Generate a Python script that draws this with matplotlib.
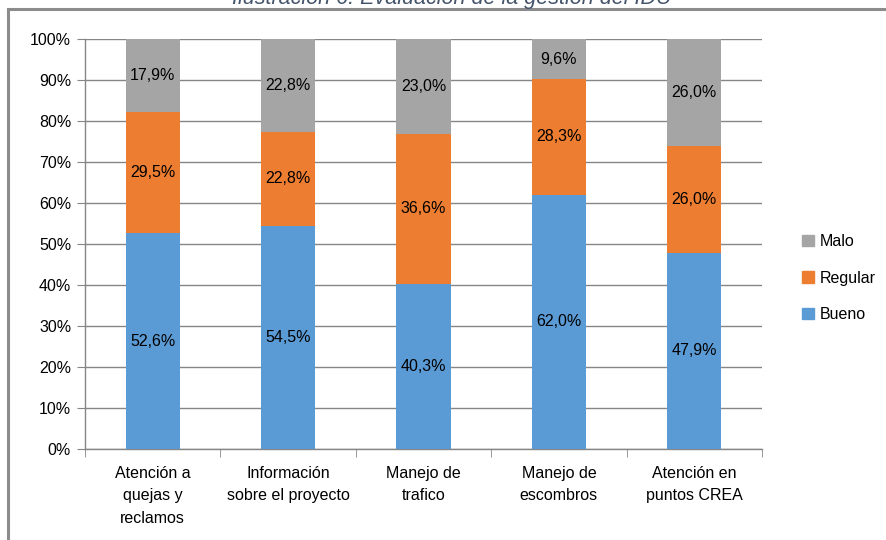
import numpy as np
import matplotlib.pyplot as plt
from matplotlib.patches import Rectangle
from matplotlib.lines import Line2D

# ============================================================
# DATA
# ============================================================
categories = ['Atención a\nquejas y\nreclamos',
              'Información\nsobre el proyecto',
              'Manejo de\ntrafico',
              'Manejo de\nescombros',
              'Atención en\npuntos CREA']
bueno = [52.6, 54.5, 40.3, 62.0, 47.9]
regular = [29.5, 22.8, 36.6, 28.3, 26.0]
malo = [17.9, 22.8, 23.0, 9.6, 26.0]
series_names = ['Bueno', 'Regular', 'Malo']
colors = ['#5B9BD5', '#ED7D31', '#A5A5A5']
title = 'Ilustración 6. Evaluación de la gestión del IDU'

plt.rcParams['font.family'] = ['Liberation Sans', 'DejaVu Sans']

W, H = 886, 540
fig = plt.figure(figsize=(W / 100, H / 100), dpi=100)

# plot area in pixels
x0, x1 = 85, 762
y0, y1 = 39, 449
ax = fig.add_axes([x0 / W, 1 - y1 / H, (x1 - x0) / W, (y1 - y0) / H])

x = np.arange(len(categories))
bottom = np.zeros(len(categories))
for vals, name, col in zip([bueno, regular, malo], series_names, colors):
    vals = np.array(vals)
    heights = np.minimum(vals, 100 - bottom)
    ax.bar(x, heights, bottom=bottom, width=0.4, color=col, label=name, zorder=3)
    for xi, b, v, h in zip(x, bottom, vals, heights):
        ax.text(xi, b + h / 2, f'{v:.1f}%'.replace('.', ','),
                ha='center', va='center', fontsize=11.5, color='black', zorder=4)
    bottom = bottom + heights

ax.set_xlim(-0.5, len(categories) - 0.5)
ax.set_ylim(0, 100)
ax.set_yticks(np.arange(0, 101, 10))
ax.set_yticklabels([f'{t}%' for t in range(0, 101, 10)], fontsize=11.5)
ax.yaxis.grid(True, color='#868686', linewidth=1, zorder=0)
ax.set_axisbelow(True)

ax.set_xticks(x)
ax.set_xticklabels(categories, fontsize=11.5, linespacing=1.65)
ax.set_xticks(np.arange(-0.5, len(categories)), minor=True)
ax.tick_params(axis='x', which='major', length=0, pad=12)
ax.tick_params(axis='x', which='minor', length=6, color='#868686')
ax.tick_params(axis='y', length=6, color='#868686', direction='out', pad=4)

for side in ['top', 'right']:
    ax.spines[side].set_visible(False)
for side in ['left', 'bottom']:
    ax.spines[side].set_color('#868686')
    ax.spines[side].set_linewidth(1)

# legend (top to bottom: Malo, Regular, Bueno)
handles = [Rectangle((0, 0), 1, 1, color=c) for c in colors[::-1]]
fig.legend(handles, series_names[::-1], loc='center left',
           bbox_to_anchor=(788 / W, 1 - 278 / H), frameon=False,
           fontsize=11.5, handlelength=0.75, handleheight=0.75,
           handletextpad=0.35, labelspacing=1.35)

# outer frame (chart border) and clipped caption
fig.add_artist(Line2D([8 / W, 1], [1 - 9 / H, 1 - 9 / H], color='#8C8C8C', linewidth=2.2))
fig.add_artist(Line2D([8 / W, 8 / W], [0, 1 - 9 / H], color='#8C8C8C', linewidth=2.2))
fig.text(452 / W, 1 - 4 / H, title, ha='center', va='baseline', fontsize=15.5,
         style='italic', color='#44546A')

fig.savefig('out.png', dpi=100)
